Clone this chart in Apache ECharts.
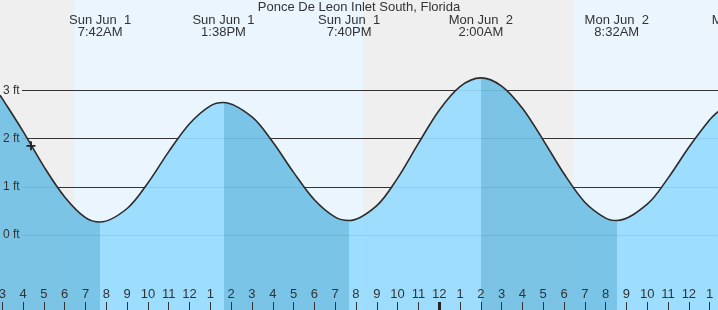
<!DOCTYPE html>
<html>
<head>
<meta charset="utf-8">
<script src="https://cdn.jsdelivr.net/npm/echarts@6/dist/echarts.min.js"></script>
<style>
    html, body { margin: 0; padding: 0; background: #efefef; }
    #chart { width: 718px; height: 310px; }
</style>
</head>
<body>
<div id="chart"></div>
<script>
// 时间轴：从 周日 00:00 起算的小时数
const xMin = 2.89;
const xMax = 37.4;
const xMaxLabels = 40;   // 顶部标签轴延伸到画面外，让最后一个标签露出一角
const tideHours = [2.89, 3, 4, 5, 6, 7, 7.7, 9, 10, 11, 12, 13, 13.633, 15, 16, 17, 18, 19, 19.667,
    21, 22, 23, 24, 25, 26, 27, 28, 29, 30, 31, 32, 32.533, 34, 35, 36, 37, 37.4];
const tideFeet = [2.90, 2.83, 2.15, 1.42, 0.79, 0.36, 0.27, 0.55, 1.08, 1.73, 2.31, 2.68, 2.75, 2.45, 1.93, 1.30, 0.73, 0.37, 0.30,
    0.61, 1.18, 1.90, 2.59, 3.08, 3.26, 3.09, 2.63, 1.97, 1.27, 0.68, 0.35, 0.30, 0.64, 1.18, 1.82, 2.39, 2.56];

// 高低潮事件（顶部标签）
const eventHours = [7.7, 13.633, 19.667, 26, 32.533, 38.65];
const eventDays = ['Sun Jun  1', 'Sun Jun  1', 'Sun Jun  1', 'Mon Jun  2', 'Mon Jun  2', 'Mon Jun  2'];
const eventTimes = ['7:42AM', '1:38PM', '7:40PM', '2:00AM', '8:32AM', '2:39PM'];
// 涨落分界（只用画面内的事件）
const turnHours = [7.7, 13.633, 19.667, 26, 32.533];

// 白天时段
const daylight = [[6.45, 20.34], [30.44, 37.4]];

// 刻度
const hourTicks = [3, 4, 5, 6, 7, 8, 9, 10, 11, 12, 13, 14, 15, 16, 17, 18, 19, 20, 21, 22, 23, 24, 25, 26, 27, 28, 29, 30, 31, 32, 33, 34, 35, 36, 37];
const midnightTicks = [24];
const feetTicks = [0, 1, 2, 3];

// 当前时刻标记
const nowPoint = [[4.38, 1.85]];

const FONT = "'Liberation Sans', Arial, sans-serif";
const NARROW = "'Liberation Sans Narrow', 'Liberation Sans', sans-serif";
const FALL = '#70c0e5';
const RISE = '#96dbfd';
const W = 718;
const SMOOTH = 0.33;

const tidePoints = tideHours.map((h, i) => [h, tideFeet[i]]);

// 涨落分段颜色
const pieces = [];
for (let i = 0; i <= turnHours.length; i++) {
    const p = { color: i % 2 === 0 ? FALL : RISE };
    if (i > 0) p.gte = turnHours[i - 1];
    if (i < turnHours.length) p.lt = turnHours[i];
    pieces.push(p);
}

// 延伸网格的右边距（保持与主网格同一比例）
const extRight = -(xMaxLabels - xMax) * W / (xMax - xMin);

const chart = echarts.init(document.getElementById('chart'));

const noLine = { show: false, onZero: false };

const option = {
    animation: false,
    backgroundColor: '#efefef',
    title: {
        text: 'Ponce De Leon Inlet South, Florida',
        left: 'center',
        top: 1,
        padding: 0,
        textStyle: { fontFamily: FONT, fontSize: 13, fontWeight: 'normal', color: '#333' }
    },
    grid: [
        { left: 0, right: 0, top: 0, bottom: 0, containLabel: false, outerBoundsMode: 'none' },
        { left: 22, right: 0, top: 42.2, bottom: 26.8, containLabel: false, outerBoundsMode: 'none' },
        { left: 0, right: extRight, top: 0, bottom: 0, containLabel: false, outerBoundsMode: 'none' }
    ],
    xAxis: [
        {
            gridIndex: 0, type: 'value', min: xMin, max: xMax, position: 'bottom', z: 5,
            axisLine: noLine,
            splitLine: { show: false },
            axisTick: { inside: true, length: 8, customValues: hourTicks, lineStyle: { color: '#333', width: 1 } },
            axisLabel: {
                inside: true, margin: 9, customValues: hourTicks,
                formatter: v => { const h = Math.round(v) % 12; return String(h === 0 ? 12 : h); },
                fontFamily: NARROW, fontSize: 13, color: '#333'
            }
        },
        {
            gridIndex: 1, type: 'value', min: xMin, max: xMax, show: false, axisLine: noLine
        },
        {
            // 顶部高低潮时间
            gridIndex: 2, type: 'value', min: xMin, max: xMaxLabels, position: 'top', z: 5,
            axisLine: noLine,
            splitLine: { show: false },
            axisTick: { show: false, customValues: eventHours },
            axisLabel: {
                inside: true, margin: 14, customValues: eventHours, lineHeight: 12,
                formatter: v => {
                    const i = eventHours.findIndex(e => Math.abs(e - v) < 1e-6);
                    return i < 0 ? '' : eventDays[i] + '\n' + eventTimes[i];
                },
                fontFamily: FONT, fontSize: 13, color: '#333'
            }
        },
        {
            // 午夜粗刻度
            gridIndex: 2, type: 'value', min: xMin, max: xMaxLabels, position: 'bottom', z: 6,
            axisLine: noLine,
            splitLine: { show: false },
            axisLabel: { show: false },
            axisTick: { inside: true, length: 8, customValues: midnightTicks, lineStyle: { color: '#222', width: 3 } }
        }
    ],
    yAxis: [
        {
            gridIndex: 0, type: 'value', min: -1.556, max: 4.876, z: 5,
            axisLine: noLine,
            splitLine: { show: false },
            axisTick: { show: false, customValues: feetTicks },
            axisLabel: {
                inside: true, margin: 3, customValues: feetTicks,
                formatter: '{value} ft',
                fontFamily: FONT, fontSize: 12, color: '#333'
            }
        },
        {
            gridIndex: 1, type: 'value', min: -1, max: 4, interval: 1, z: 1,
            axisLine: noLine,
            axisTick: { show: false },
            axisLabel: { show: false },
            splitLine: {
                show: true,
                lineStyle: { color: ['transparent', '#333', '#333', '#333', '#333', 'transparent'], width: 1 }
            }
        },
        {
            gridIndex: 2, type: 'value', min: 0, max: 1, show: false, axisLine: noLine
        }
    ],
    visualMap: {
        type: 'piecewise', show: false, dimension: 0, seriesIndex: 1, pieces: pieces
    },
    series: [
        {
            // 白天背景
            type: 'custom', xAxisIndex: 0, yAxisIndex: 0, z: 0, silent: true,
            data: daylight,
            encode: { x: [0, 1] },
            renderItem: (params, api) => {
                const s = api.coord([api.value(0), 0]);
                const e = api.coord([api.value(1), 0]);
                const cs = params.coordSys;
                return {
                    type: 'rect',
                    shape: { x: s[0], y: cs.y, width: e[0] - s[0], height: cs.height },
                    style: { fill: '#eaf5fe' }
                };
            }
        },
        {
            // 填充
            type: 'line', xAxisIndex: 0, yAxisIndex: 0, z: 2, silent: true,
            data: tidePoints, smooth: SMOOTH, symbol: 'none',
            lineStyle: { width: 0 },
            areaStyle: { origin: 'start', opacity: 0.92 }
        },
        {
            // 潮位曲线
            type: 'line', xAxisIndex: 0, yAxisIndex: 0, z: 3, silent: true,
            data: tidePoints, smooth: SMOOTH, symbol: 'none',
            lineStyle: { color: '#2b2b2b', width: 1.6 }
        },
        {
            type: 'scatter', xAxisIndex: 0, yAxisIndex: 0, z: 4, silent: true,
            data: nowPoint,
            symbol: 'path://M4,0h2v10h-2zM0,4h10v2h-10z',
            symbolSize: 9,
            itemStyle: { color: '#222', opacity: 1 }
        }
    ]
};

chart.setOption(option);
</script>
</body>
</html>
